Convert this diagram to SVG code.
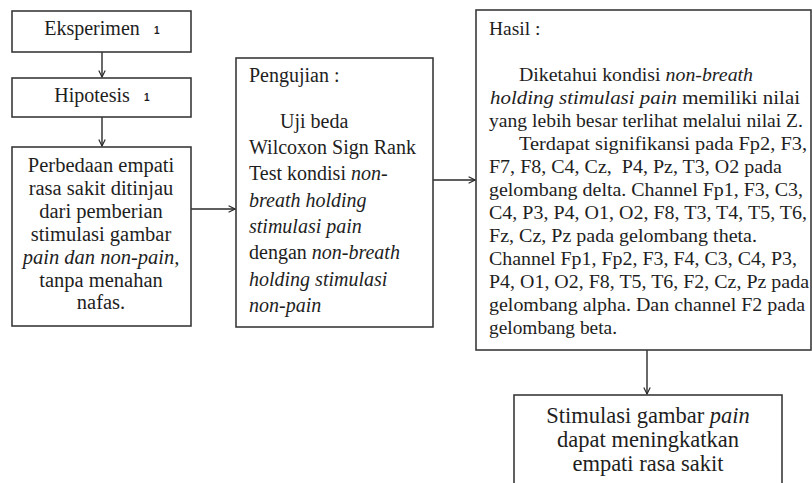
<svg xmlns="http://www.w3.org/2000/svg" width="812" height="483" viewBox="0 0 812 483">
<style>
.box{fill:#fff;stroke:#3a3a3a;stroke-width:1.6}
.t{font-family:"Liberation Serif","Times New Roman",serif;font-size:20px;fill:#1e1e1e}
.c{text-anchor:middle}
.r{font-size:19.5px}
.b3{font-size:20.5px}
.b6{font-size:22.5px}
.i{font-style:italic}
.sup{font-family:"Liberation Sans",Arial,sans-serif;font-size:10px;font-weight:bold;fill:#1e1e1e}
.con{fill:none;stroke:#2a2a2a;stroke-width:1.4}
</style>
<defs>
<marker id="ah" viewBox="0 0 10 10" refX="9" refY="5" markerWidth="8" markerHeight="8" markerUnits="userSpaceOnUse" orient="auto">
<path d="M1,1 L9,5 L1,9" fill="none" stroke="#2a2a2a" stroke-width="1.5"/>
</marker>
</defs>
<rect width="812" height="483" fill="#fff"/>
<g id="connectors">
<line class="con" x1="102" y1="52" x2="102" y2="77" marker-end="url(#ah)"/>
<line class="con" x1="102" y1="117" x2="102" y2="146" marker-end="url(#ah)"/>
<line class="con" x1="191" y1="209" x2="235" y2="209" marker-end="url(#ah)"/>
<line class="con" x1="433" y1="180" x2="475" y2="180" marker-end="url(#ah)"/>
<line class="con" x1="647" y1="350" x2="647" y2="394" marker-end="url(#ah)"/>
</g>
<g id="eksperimen">
<rect class="box" x="12" y="11" width="179" height="41"/>
<text class="t c" x="92" y="35" font-size="20.5">Eksperimen</text>
<text class="sup" x="154" y="34">1</text>
</g>
<g id="hipotesis">
<rect class="box" x="12" y="78" width="179" height="39"/>
<text class="t c" x="92" y="102" font-size="20.5">Hipotesis</text>
<text class="sup" x="144" y="101">1</text>
</g>
<g id="perbedaan">
<rect class="box" x="12" y="147" width="179" height="179"/>
<text class="t c b3" x="101" y="172">Perbedaan empati</text>
<text class="t c b3" x="101" y="195">rasa sakit ditinjau</text>
<text class="t c b3" x="101" y="218">dari pemberian</text>
<text class="t c b3" x="101" y="241">stimulasi gambar</text>
<text class="t c b3 i" x="101" y="264">pain dan non-pain,</text>
<text class="t c b3" x="101" y="287">tanpa menahan</text>
<text class="t c b3" x="101" y="309">nafas.</text>
</g>
<g id="pengujian">
<rect class="box" x="236" y="58" width="197" height="269"/>
<text class="t" x="249" y="82">Pengujian :</text>
<text class="t" x="280" y="128">Uji beda</text>
<text class="t" x="249" y="154">Wilcoxon Sign Rank</text>
<text class="t" x="249" y="180">Test kondisi <tspan class="i">non-</tspan></text>
<text class="t i" x="249" y="207">breath holding</text>
<text class="t i" x="249" y="233">stimulasi pain</text>
<text class="t" x="249" y="259">dengan <tspan class="i">non-breath</tspan></text>
<text class="t i" x="249" y="286">holding stimulasi</text>
<text class="t i" x="249" y="312">non-pain</text>
</g>
<g id="hasil">
<rect class="box" x="476" y="10" width="335" height="340"/>
<text class="t r" x="489" y="35">Hasil :</text>
<text class="t r" x="519" y="81" textLength="234" lengthAdjust="spacingAndGlyphs">Diketahui kondisi <tspan class="i">non-breath</tspan></text>
<text class="t r" x="490" y="104" textLength="310" lengthAdjust="spacingAndGlyphs"><tspan class="i">holding stimulasi pain</tspan> memiliki nilai</text>
<text class="t r" x="489" y="127" textLength="314" lengthAdjust="spacingAndGlyphs">yang lebih besar terlihat melalui nilai Z.</text>
<text class="t r" x="519" y="150" textLength="288" lengthAdjust="spacingAndGlyphs">Terdapat signifikansi pada Fp2, F3,</text>
<text class="t r" x="489" y="173" textLength="293" lengthAdjust="spacingAndGlyphs" xml:space="preserve">F7, F8, C4, Cz,  P4, Pz, T3, O2 pada</text>
<text class="t r" x="489" y="196" textLength="314" lengthAdjust="spacingAndGlyphs">gelombang delta. Channel Fp1, F3, C3,</text>
<text class="t r" x="489" y="219" textLength="318" lengthAdjust="spacingAndGlyphs">C4, P3, P4, O1, O2, F8, T3, T4, T5, T6,</text>
<text class="t r" x="489" y="242" textLength="268" lengthAdjust="spacingAndGlyphs">Fz, Cz, Pz pada gelombang theta.</text>
<text class="t r" x="489" y="265" textLength="308" lengthAdjust="spacingAndGlyphs">Channel Fp1, Fp2, F3, F4, C3, C4, P3,</text>
<text class="t r" x="489" y="288" textLength="320" lengthAdjust="spacingAndGlyphs">P4, O1, O2, F8, T5, T6, F2, Cz, Pz pada</text>
<text class="t r" x="489" y="311" textLength="316" lengthAdjust="spacingAndGlyphs">gelombang alpha. Dan channel F2 pada</text>
<text class="t r" x="489" y="334" textLength="128" lengthAdjust="spacingAndGlyphs">gelombang beta.</text>
</g>
<g id="kesimpulan">
<rect class="box" x="514" y="395" width="268" height="100"/>
<text class="t c b6" x="648" y="423">Stimulasi gambar <tspan class="i">pain</tspan></text>
<text class="t c b6" x="648" y="447">dapat meningkatkan</text>
<text class="t c b6" x="648" y="471">empati rasa sakit</text>
</g>
</svg>
